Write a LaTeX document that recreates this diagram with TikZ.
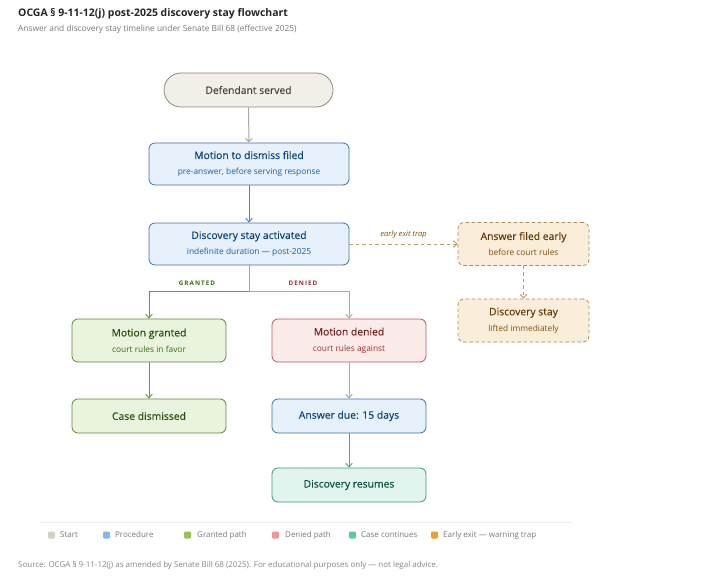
\documentclass[tikz,border=0pt]{standalone}
\usepackage{fontspec}
\setmainfont{Open Sans}
\newfontfamily\medfont{Open Sans}[FakeBold=0.25]
\usetikzlibrary{arrows.meta}
\definecolor{stfill}{HTML}{F1EFE8}\definecolor{stdraw}{HTML}{8C8A82}\definecolor{sttext}{HTML}{444441}
\definecolor{prfill}{HTML}{E6F1FB}\definecolor{prdraw}{HTML}{3F72A8}\definecolor{prtext}{HTML}{0C447C}\definecolor{prsub}{HTML}{185FA5}
\definecolor{grfill}{HTML}{EAF3DE}\definecolor{grdraw}{HTML}{5E8A32}\definecolor{grtext}{HTML}{27500A}\definecolor{grsub}{HTML}{3B6D11}
\definecolor{dnfill}{HTML}{FCEBEB}\definecolor{dndraw}{HTML}{B25B5B}\definecolor{dntext}{HTML}{791F1F}\definecolor{dnsub}{HTML}{A32D2D}
\definecolor{ccfill}{HTML}{E1F5EE}\definecolor{ccdraw}{HTML}{3A9A7A}\definecolor{cctext}{HTML}{085041}
\definecolor{exfill}{HTML}{FAEEDA}\definecolor{exdraw}{HTML}{B08A50}\definecolor{extext}{HTML}{633806}\definecolor{exsub}{HTML}{854F0B}
\definecolor{arrgray}{HTML}{A8A8A4}\definecolor{arrtan}{HTML}{B89E70}
\definecolor{arrblue}{HTML}{4F86C0}\definecolor{arrgreen}{HTML}{6A9A3E}\definecolor{arrteal}{HTML}{48A888}
\definecolor{lgtext}{HTML}{7A7A76}
\newcommand\titl[1]{{\medfont\fontsize{10.4}{12}\selectfont #1}}
\newcommand\subl[1]{{\fontsize{8.4}{10}\selectfont #1}}
\tikzset{
  box/.style={rectangle,rounded corners=6bp,line width=0.8bp,inner sep=0pt,align=center,minimum width=154bp,minimum height=43bp},
  prbox/.style={box,fill=prfill,draw=prdraw,text=prtext,minimum width=200bp,minimum height=42bp},
  grbox/.style={box,fill=grfill,draw=grdraw,text=grtext},
  dnbox/.style={box,fill=dnfill,draw=dndraw,text=dntext},
  ccbox/.style={box,fill=ccfill,draw=ccdraw,text=cctext,minimum height=34bp},
  exbox/.style={box,fill=exfill,draw=exdraw,text=extext,dash pattern=on 3.5bp off 2.5bp,minimum width=131bp},
  conn/.style={line width=1bp,-{Straight Barb[length=3.5bp,width=6.5bp,line width=1bp]}},
  lgsq/.style={rectangle,rounded corners=1.2bp,minimum size=7bp,inner sep=0pt},
  lgtx/.style={anchor=west,inner sep=0pt,text=lgtext,font=\fontsize{8}{9}\selectfont},
}
\begin{document}
\begin{tikzpicture}[x=1bp,y=-1bp]
\useasboundingbox[fill=white] (0,0) rectangle (716,581);
\node[anchor=west,inner sep=0pt,font=\bfseries\fontsize{10.5}{12}\selectfont,text=black!85] (title) at (18,13.5) {OCGA § 9-11-12(j) post-2025 discovery stay flowchart};
\node[anchor=west,inner sep=0pt,font=\fontsize{8.4}{10}\selectfont,text=lgtext] (subtitle) at (18,29.5) {Answer and discovery stay timeline under Senate Bill 68 (effective 2025)};

\node[box,fill=stfill,draw=stdraw,text=sttext,rounded corners=17bp,minimum width=169bp,minimum height=34bp] (start) at (248.5,90) {\titl{Defendant served}};
\node[prbox] (motion) at (249,164) {\titl{Motion to dismiss filed}\\[4pt]\color{prsub}\subl{pre-answer, before serving response}};
\node[prbox] (stay) at (249,244) {\titl{Discovery stay activated}\\[4pt]\color{prsub}\subl{indefinite duration — post-2025}};
\node[exbox] (early) at (523.5,244) {\titl{Answer filed early}\\[4pt]\color{exsub}\subl{before court rules}};
\node[exbox] (lifted) at (523.5,320.5) {\titl{Discovery stay}\\[4pt]\color{exsub}\subl{lifted immediately}};
\node[grbox] (granted) at (149,340.5) {\titl{Motion granted}\\[4pt]\color{grsub}\subl{court rules in favor}};
\node[dnbox] (denied) at (349,340.5) {\titl{Motion denied}\\[4pt]\color{dnsub}\subl{court rules against}};
\node[grbox,minimum height=34bp] (dismissed) at (149,416) {\titl{Case dismissed}};
\node[prbox,minimum width=154bp,minimum height=34bp] (answer) at (349,416) {\titl{Answer due: 15 days}};
\node[ccbox] (resumes) at (349,485) {\titl{Discovery resumes}};

\draw[conn,draw=arrgray] (start) -- (motion);
\draw[conn,draw=arrblue] (motion) -- (stay);
\coordinate (br) at (249,291.5);
\draw[line width=1bp,draw=arrgray] (stay.south) -- (br);
\draw[conn,draw=arrgreen] (br) -| (granted.north);
\draw[conn,draw=arrgray] (br) -| (denied.north);
\node[inner sep=0pt,font=\bfseries\fontsize{6.3}{8}\selectfont,text=grsub] (lgr) at (197,283) {G\,R\,A\,N\,T\,E\,D};
\node[inner sep=0pt,font=\bfseries\fontsize{6.3}{8}\selectfont,text=dnsub] (ldn) at (303,283) {D\,E\,N\,I\,E\,D};
\draw[conn,draw=arrgreen] (granted) -- (dismissed);
\draw[conn,draw=arrgray] (denied) -- (answer);
\draw[conn,draw=arrteal] (answer) -- (resumes);
\draw[conn,draw=arrtan,dash pattern=on 3.5bp off 3bp] (stay.east) -- (early.west) node[midway,above=5bp,inner sep=0pt,font=\itshape\fontsize{7.6}{9}\selectfont,text=exsub] (lex) {early exit trap};
\draw[conn,draw=arrtan,dash pattern=on 3.5bp off 3bp] (early) -- (lifted);

\draw[line width=0.6bp,black!7] (40,522) -- (572,522);
\node[lgsq,fill={rgb,255:red,211;green,209;blue,199}] (q1) at (51.5,535) {};
\node[lgtx] (t1) at (60,535) {Start};
\node[lgsq,fill={rgb,255:red,133;green,183;blue,235}] (q2) at (106.5,535) {};
\node[lgtx] (t2) at (115,535) {Procedure};
\node[lgsq,fill={rgb,255:red,151;green,196;blue,89}] (q3) at (187.5,535) {};
\node[lgtx] (t3) at (197,535) {Granted path};
\node[lgsq,fill={rgb,255:red,240;green,149;blue,149}] (q4) at (275.5,535) {};
\node[lgtx] (t4) at (285,535) {Denied path};
\node[lgsq,fill={rgb,255:red,93;green,202;blue,165}] (q5) at (352.5,535) {};
\node[lgtx] (t5) at (361,535) {Case continues};
\node[lgsq,fill={rgb,255:red,239;green,159;blue,39}] (q6) at (434.5,535) {};
\node[lgtx] (t6) at (443,535) {Early exit — warning trap};
\node[lgtx,font=\fontsize{8}{9}\selectfont,text=lgtext!90] (src) at (18,565) {Source: OCGA § 9-11-12(j) as amended by Senate Bill 68 (2025). For educational purposes only — not legal advice.};
\end{tikzpicture}
\end{document}
